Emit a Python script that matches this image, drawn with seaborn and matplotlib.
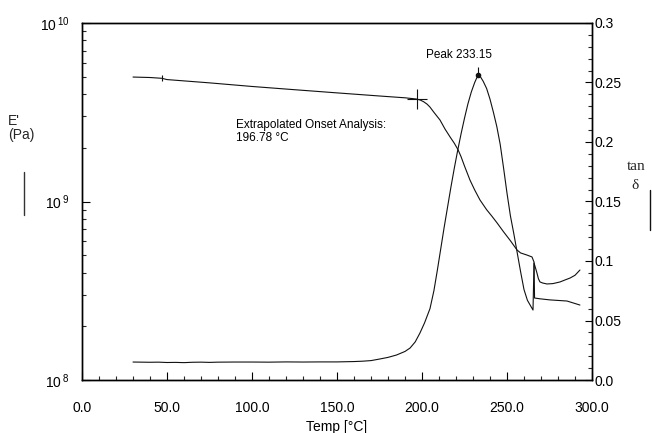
import math

import matplotlib
matplotlib.use("Agg")
import matplotlib.pyplot as plt
import pandas as pd
import seaborn as sns
from matplotlib.lines import Line2D
from matplotlib.ticker import (FixedLocator, FuncFormatter, LogLocator,
                               MultipleLocator, NullFormatter)

# Storage modulus E' (Pa) against temperature (°C)
temp_e = [30.0, 40.0, 47.0, 50.0, 75.0, 100.0, 125.0, 150.0, 175.0, 190.0,
          196.78, 199.0, 201.0, 203.0, 204.7, 207.0, 210.6, 213.5, 216.5,
          219.0, 221.2, 223.0, 225.0, 228.2, 231.0, 234.1, 238.0, 241.0,
          244.1, 248.0, 252.0, 255.9, 258.0, 261.8, 264.7, 265.9, 266.2,
          269.4, 275.3, 285.3, 292.9]
e_prime = [4.98e9, 4.95e9, 4.90e9, 4.82e9, 4.62e9, 4.41e9, 4.23e9, 4.06e9,
           3.90e9, 3.81e9, 3.75e9, 3.70e9, 3.62e9, 3.51e9, 3.38e9, 3.16e9,
           2.86e9, 2.55e9, 2.30e9, 2.12e9, 1.95e9, 1.78e9, 1.58e9, 1.32e9,
           1.16e9, 1.02e9, 9.0e8, 8.3e8, 7.6e8, 6.76e8, 6.03e8, 5.35e8,
           5.15e8, 5.01e8, 4.89e8, 4.58e8, 2.88e8, 2.85e8, 2.81e8, 2.77e8,
           2.63e8]

# Loss tangent tan δ against temperature (°C)
temp_tan = [30, 35, 40, 45, 50, 55, 60, 65, 70, 75, 80, 90, 100, 110, 120,
            130, 140, 150, 160, 165, 170, 175, 180, 185, 190, 193, 196, 198.8,
            201.5, 204.7, 207, 209, 211, 213, 215, 217, 219, 221, 223, 225,
            227, 229, 231, 232.4, 233.15, 234.5, 236, 238, 240, 242, 244, 246,
            248, 250, 252, 254, 256, 258, 260, 262, 264, 265.3, 265.9, 266.8,
            267.6, 268.5, 269.4, 271, 273.5, 277, 281.2, 284, 287.1, 290,
            292.9]
tan_delta = [0.0151, 0.0150, 0.0149, 0.0150, 0.0147, 0.0148, 0.0146, 0.0149,
             0.0150, 0.0148, 0.0150, 0.0151, 0.0151, 0.0150, 0.0152, 0.0151,
             0.0152, 0.0152, 0.0155, 0.0158, 0.0163, 0.0176, 0.0190, 0.0210,
             0.0240, 0.0269, 0.0320, 0.0395, 0.0480, 0.0600, 0.0750, 0.0920,
             0.1100, 0.1280, 0.1450, 0.1620, 0.1780, 0.1930, 0.2070, 0.2200,
             0.2320, 0.2420, 0.2500, 0.2545, 0.2560, 0.2545, 0.2510, 0.2450,
             0.2360, 0.2250, 0.2130, 0.1980, 0.1780, 0.1570, 0.1380, 0.1230,
             0.1070, 0.0910, 0.0760, 0.0670, 0.0620, 0.0588, 0.0983, 0.0940,
             0.0900, 0.0850, 0.0824, 0.0815, 0.0807, 0.0810, 0.0824, 0.0840,
             0.0857, 0.0880, 0.0924]

onset_temp = 196.78
onset_e = 3.75e9
peak_temp = 233.15
peak_tan = 0.256

x_ticks = [0, 50, 100, 150, 200, 250, 300]
x_tick_labels = ["0.0", "50.0", "100.0", "150.0", "200.0", "250.0", "300.0"]
tan_ticks = [0.0, 0.05, 0.1, 0.15, 0.2, 0.25, 0.3]
tan_tick_labels = ["0.0", "0.05", "0.1", "0.15", "0.2", "0.25", "0.3"]

sns.set_theme(style="ticks")
plt.rcParams["font.family"] = ["Liberation Sans", "DejaVu Sans"]
plt.rcParams["axes.edgecolor"] = "black"
plt.rcParams["axes.linewidth"] = 1.0

ink = "#111111"
serif = ["Liberation Serif", "DejaVu Serif"]

fig = plt.figure(figsize=(6.52, 4.33), dpi=100)
fig.patch.set_facecolor("white")
ax = fig.add_axes([82 / 652, 1 - 380 / 433, 510 / 652, 357 / 433])
ax2 = ax.twinx()

df_e = pd.DataFrame({"temp": temp_e, "E": e_prime})
df_t = pd.DataFrame({"temp": temp_tan, "tan": tan_delta})

sns.lineplot(data=df_e, x="temp", y="E", ax=ax, color=ink, lw=0.8,
             sort=False, estimator=None)
sns.lineplot(data=df_t, x="temp", y="tan", ax=ax2, color=ink, lw=0.8,
             sort=False, estimator=None)

# Left axis: E' on a log scale
ax.set_yscale("log")
ax.set_ylim(1e8, 1e10)
ax.yaxis.set_major_locator(LogLocator(base=10, numticks=5))
ax.yaxis.set_minor_locator(LogLocator(base=10, subs=range(2, 10), numticks=20))
ax.yaxis.set_minor_formatter(NullFormatter())
ax.yaxis.set_major_formatter(
    FuncFormatter(lambda v, p: r"$\mathregular{10^{\,%d}}$" % round(math.log10(v))))

ax.set_xlim(0, 300)
ax.xaxis.set_major_locator(FixedLocator(x_ticks))
ax.set_xticklabels(x_tick_labels)
ax.xaxis.set_minor_locator(MultipleLocator(10))

ax.tick_params(axis="x", which="major", direction="in", length=6, width=0.8,
               pad=15, labelsize=10, colors="black", top=False)
ax.tick_params(axis="x", which="minor", direction="in", length=3, width=0.8,
               top=False)
ax.tick_params(axis="y", which="major", direction="in", length=6, width=0.8,
               pad=9, labelsize=10, colors="black", right=False)
ax.tick_params(axis="y", which="minor", direction="in", length=3, width=0.8,
               right=False)
ax.set_xlabel("Temp [°C]", fontsize=10, labelpad=4, color="black")
ax.set_ylabel("")

# Right axis: tan δ
ax2.set_ylim(0, 0.3)
ax2.yaxis.set_major_locator(FixedLocator(tan_ticks))
ax2.set_yticklabels(tan_tick_labels)
ax2.yaxis.set_minor_locator(MultipleLocator(0.01))
ax2.tick_params(axis="y", which="major", direction="in", length=5, width=0.8,
                pad=2, labelsize=10, colors="black")
ax2.tick_params(axis="y", which="minor", direction="in", length=3, width=0.8)
ax2.set_ylabel("")

for a in (ax, ax2):
    for s in a.spines.values():
        s.set_visible(True)
        s.set_color("black")
        s.set_linewidth(1.0)

# Onset and peak analysis markers
ax.plot([onset_temp], [onset_e], marker="+", ms=15, mew=0.8, color=ink)
ax.plot([temp_e[2]], [e_prime[2]], marker="|", ms=4, mew=0.8, color=ink)
ax2.plot([peak_temp], [peak_tan], marker="o", ms=3, color=ink)
ax2.plot([peak_temp], [peak_tan + 0.004], marker="|", ms=6, mew=0.8, color=ink)

ax.text(90.5, 2.47e9, "Extrapolated Onset Analysis:\n%.2f °C" % onset_temp,
        fontsize=8.5, color="black", ha="left", va="center", linespacing=1.1)
ax2.text(222, 0.273, "Peak %.2f" % peak_temp, fontsize=8.5, color="black",
         ha="center", va="center")

# Axis titles beside the spines
fig.text(8 / 652, 1 - 128 / 433, "E'\n(Pa)", fontsize=10, ha="left",
         va="center", linespacing=1.0)
fig.add_artist(Line2D([24 / 652, 24 / 652], [1 - 172 / 433, 1 - 215 / 433],
                      color="#333333", lw=1.0))
fig.text(636 / 652, 1 - 167 / 433, "tan", fontsize=11, ha="center",
         va="center", family=serif)
fig.text(635 / 652, 1 - 185 / 433, "δ", fontsize=11, ha="center",
         va="center", family=serif)
fig.add_artist(Line2D([650 / 652, 650 / 652], [1 - 190 / 433, 1 - 230 / 433],
                      color="#111111", lw=1.0))

fig.savefig("out.png", dpi=100, facecolor="white")
